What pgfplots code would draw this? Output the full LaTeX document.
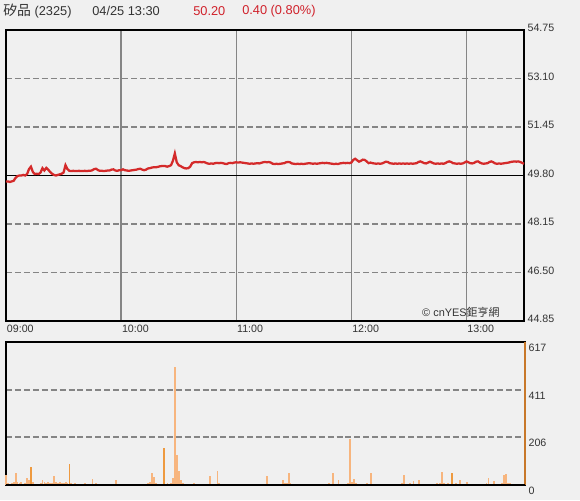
\documentclass[border=0pt]{standalone}
\usepackage{pgfplots}
\pgfplotsset{compat=1.18}
\usepackage{fontspec}
\setmainfont{Liberation Sans}
\newfontfamily\cjk{Noto Sans CJK TC}
\definecolor{bg}{HTML}{F0F0F0}
\definecolor{pricered}{HTML}{D42A2A}
\definecolor{gridgray}{HTML}{858585}
\definecolor{volor}{HTML}{F7B57E}
\definecolor{volgold}{HTML}{EE9A40}
\definecolor{hdrred}{HTML}{D0202A}
\definecolor{txt}{HTML}{333333}
\definecolor{volaxis}{HTML}{C8782A}

\begin{document}
\begin{tikzpicture}[x=0.75pt,y=0.75pt]
\fill[bg] (0,0) rectangle (580,500);
\useasboundingbox (0,0) rectangle (580,500);
% header
\begin{scope}[every node/.style={anchor=west, inner sep=0pt, font=\fontsize{9.6}{11}\selectfont}]
\node[text=txt] at (3,489) {{\cjk\fontsize{10.4}{11}\selectfont 矽品} (2325)};
\node[text=txt] at (92,489) {04/25 13:30};
\node[text=hdrred] at (193,489) {50.20};
\node[text=hdrred] at (242,489) {0.40 (0.80\%)};
\end{scope}

\begin{axis}[
  at={(4.5pt,134.25pt)}, anchor=south west,
  scale only axis, width=388.5pt, height=218.25pt,
  xmin=0, xmax=270, ymin=44.85, ymax=54.75,
  axis line style={black, line width=1.5pt},
  major tick length=0pt,
  xtick={0,60,120,180,240},
  xticklabels={09:00,10:00,11:00,12:00,13:00},
  xticklabel style={anchor=north west, inner sep=0pt, xshift=0.5pt, yshift=-3pt},
  ytick={44.85,46.50,48.15,49.80,51.45,53.10,54.75},
  yticklabels={44.85,46.50,48.15,49.80,51.45,53.10,54.75},
  yticklabel pos=right,
  yticklabel style={anchor=west, inner sep=0pt, xshift=2.5pt, yshift=1.5pt},
  tick label style={font=\fontsize{8}{9}\selectfont, text=txt},
  xmajorgrids, ymajorgrids,
  x grid style={gridgray, line width=1pt},
  y grid style={gridgray, line width=1.4pt, dash pattern=on 4.5pt off 2.2pt},
  clip=false,
]
\draw[black, line width=1.3pt] (axis cs:0,49.80) -- (axis cs:270,49.80);
\addplot[pricered, line width=1.7pt, mark=none] coordinates {
(0,49.60)(1,49.60)(2,49.58)(3,49.60)(4,49.62)(5,49.72)(6,49.78)(7,49.80)(8,49.80)(9,49.82)
(10,49.80)(11,49.85)(12,50.02)(13,50.10)(14,49.92)(15,49.85)(16,49.86)(17,49.85)(18,49.90)(19,50.05)
(20,49.97)(21,50.06)(22,50.00)(23,49.92)(24,49.86)(25,49.82)(26,49.80)(27,49.82)(28,49.84)(29,49.86)
(30,49.90)(31,50.15)(32,50.02)(33,49.96)(34,49.95)(35,49.96)(36,49.95)(37,49.95)(38,49.96)(39,49.95)
(40,49.95)(41,49.96)(42,49.95)(43,49.96)(44,49.96)(45,49.98)(46,50.02)(47,50.03)(48,49.98)(49,49.96)
(50,49.96)(51,49.95)(52,49.96)(53,49.97)(54,49.97)(55,50.00)(56,50.01)(57,49.97)(58,49.96)(59,49.98)
(60,49.98)(61,50.01)(62,49.98)(63,49.97)(64,49.96)(65,49.97)(66,49.98)(67,49.99)(68,50.00)(69,50.02)
(70,50.03)(71,50.00)(72,49.98)(73,50.00)(74,50.04)(75,50.05)(76,50.07)(77,50.08)(78,50.08)(79,50.09)
(80,50.11)(81,50.12)(82,50.12)(83,50.12)(84,50.10)(85,50.12)(86,50.15)(87,50.30)(88,50.55)(89,50.25)
(90,50.15)(91,50.12)(92,50.08)(93,50.05)(94,50.04)(95,50.05)(96,50.10)(97,50.22)(98,50.25)(99,50.26)
(100,50.25)(101,50.26)(102,50.25)(103,50.26)(104,50.24)(105,50.21)(106,50.20)(107,50.21)(108,50.20)(109,50.22)
(110,50.23)(111,50.22)(112,50.23)(113,50.22)(114,50.20)(115,50.19)(116,50.22)(117,50.23)(118,50.22)(119,50.24)
(120,50.25)(121,50.24)(122,50.25)(123,50.24)(124,50.23)(125,50.22)(126,50.21)(127,50.20)(128,50.21)(129,50.20)
(130,50.21)(131,50.22)(132,50.21)(133,50.23)(134,50.25)(135,50.26)(136,50.25)(137,50.26)(138,50.24)(139,50.20)
(140,50.19)(141,50.20)(142,50.19)(143,50.20)(144,50.21)(145,50.22)(146,50.25)(147,50.26)(148,50.25)(149,50.21)
(150,50.20)(151,50.19)(152,50.20)(153,50.19)(154,50.20)(155,50.19)(156,50.20)(157,50.21)(158,50.22)(159,50.21)
(160,50.20)(161,50.21)(162,50.20)(163,50.21)(164,50.22)(165,50.23)(166,50.22)(167,50.23)(168,50.22)(169,50.21)
(170,50.20)(171,50.19)(172,50.20)(173,50.19)(174,50.21)(175,50.22)(176,50.23)(177,50.22)(178,50.23)(179,50.22)
(180,50.24)(181,50.33)(182,50.37)(183,50.32)(184,50.27)(185,50.30)(186,50.34)(187,50.33)(188,50.28)(189,50.22)
(190,50.24)(191,50.22)(192,50.21)(193,50.20)(194,50.21)(195,50.20)(196,50.21)(197,50.24)(198,50.27)(199,50.26)
(200,50.22)(201,50.21)(202,50.20)(203,50.21)(204,50.20)(205,50.21)(206,50.20)(207,50.21)(208,50.20)(209,50.21)
(210,50.20)(211,50.21)(212,50.20)(213,50.21)(214,50.22)(215,50.26)(216,50.28)(217,50.25)(218,50.22)(219,50.21)
(220,50.24)(221,50.27)(222,50.24)(223,50.21)(224,50.20)(225,50.21)(226,50.20)(227,50.21)(228,50.20)(229,50.22)
(230,50.26)(231,50.28)(232,50.26)(233,50.22)(234,50.21)(235,50.20)(236,50.21)(237,50.20)(238,50.21)(239,50.24)
(240,50.28)(241,50.25)(242,50.22)(243,50.21)(244,50.23)(245,50.27)(246,50.28)(247,50.24)(248,50.21)(249,50.20)
(250,50.21)(251,50.22)(252,50.26)(253,50.28)(254,50.25)(255,50.21)(256,50.20)(257,50.21)(258,50.20)(259,50.21)
(260,50.22)(261,50.23)(262,50.24)(263,50.26)(264,50.27)(265,50.28)(266,50.27)(267,50.28)(268,50.26)(269,50.23)
(270,50.20)
};
\node[anchor=south west, inner sep=0pt, text=txt, font=\fontsize{8.2}{9}\selectfont]
  at (rel axis cs:0.803,0.01) {© cnYES{\cjk 鉅亨網}};
\end{axis}

\begin{axis}[
  at={(4.5pt,11.25pt)}, anchor=south west,
  scale only axis, width=389.25pt, height=107.25pt,
  xmin=0, xmax=270, ymin=0, ymax=617,
  axis line style={black, line width=1.5pt},
  major tick length=0pt,
  xtick=\empty,
  ytick={0,206,411,617},
  yticklabels={0,206,411,617},
  yticklabel pos=right,
  yticklabel style={anchor=west, inner sep=0pt, xshift=2.5pt, yshift=-4.5pt},
  tick label style={font=\fontsize{8}{9}\selectfont, text=txt},
  ymajorgrids,
  y grid style={gridgray, line width=1.4pt, dash pattern=on 4.5pt off 2.2pt},
  clip=false,
]
\addplot[ycomb, volor, line width=1.4pt, mark=none] coordinates {
(0,43)(1,8)(2,5)(3,10)(4,12)(5,52)(6,15)(7,8)(8,12)(9,6)(10,10)(11,30)(12,20)(14,15)
(15,6)(16,4)(17,5)(18,8)(19,22)(20,15)(21,10)(22,12)(23,8)(24,10)(25,39)(26,12)(27,10)(28,14)(29,8)
(30,10)(31,12)(32,8)(34,10)(35,6)(36,8)(37,5)(38,6)(39,4)(40,5)(41,8)(42,4)(43,5)(44,6)(45,26)
(46,5)(47,8)(48,3)(49,4)(50,3)(52,5)(54,3)(56,4)(57,22)(58,3)(60,4)(62,3)(64,5)(66,3)(68,4)
(70,3)(72,5)(74,8)(75,12)(76,52)(77,34)(78,10)(80,6)(84,8)(86,10)(87,30)(88,510)(89,129)
(90,62)(91,20)(92,8)(94,5)(96,6)(98,8)(100,4)(102,5)(104,6)(106,39)(108,5)(110,60)(111,10)(112,5)
(114,3)(116,4)(118,3)(120,5)(122,3)(124,4)(126,3)(128,5)(130,3)(132,4)(134,6)(136,39)(138,5)(140,4)
(142,6)(144,22)(145,8)(146,10)(147,52)(148,8)(150,4)(152,5)(154,4)(156,6)(158,3)(160,5)(162,4)(164,5)
(166,6)(168,8)(170,53)(171,6)(173,22)(174,5)(176,6)(178,10)(179,200)(180,12)(181,26)(182,8)(184,5)
(186,6)(188,8)(190,52)(191,6)(192,5)(194,4)(196,5)(198,6)(200,4)(202,5)(204,6)(206,10)(207,43)(208,6)
(210,8)(212,18)(213,6)(215,22)(216,5)(218,6)(220,5)(222,6)(224,8)(226,10)(227,57)(228,8)(230,10)
(233,6)(234,8)(236,22)(238,5)(240,14)(241,6)(242,5)(244,6)(246,4)(248,6)(250,8)(251,30)(252,6)
(254,18)(256,5)(258,10)(259,43)(260,47)(261,8)(262,10)(263,6)(264,5)(265,4)(266,5)(268,4)
};
\addplot[ycomb, volgold, line width=1.4pt, mark=none] coordinates {
(13,79)(33,91)(82,160)(232,52)
};
\draw[volaxis, line width=1.5pt] (rel axis cs:1,0) -- (rel axis cs:1,1);
\draw[black, line width=1.5pt] (rel axis cs:0,0) -- (rel axis cs:1,0);
\end{axis}
\end{tikzpicture}
\end{document}
